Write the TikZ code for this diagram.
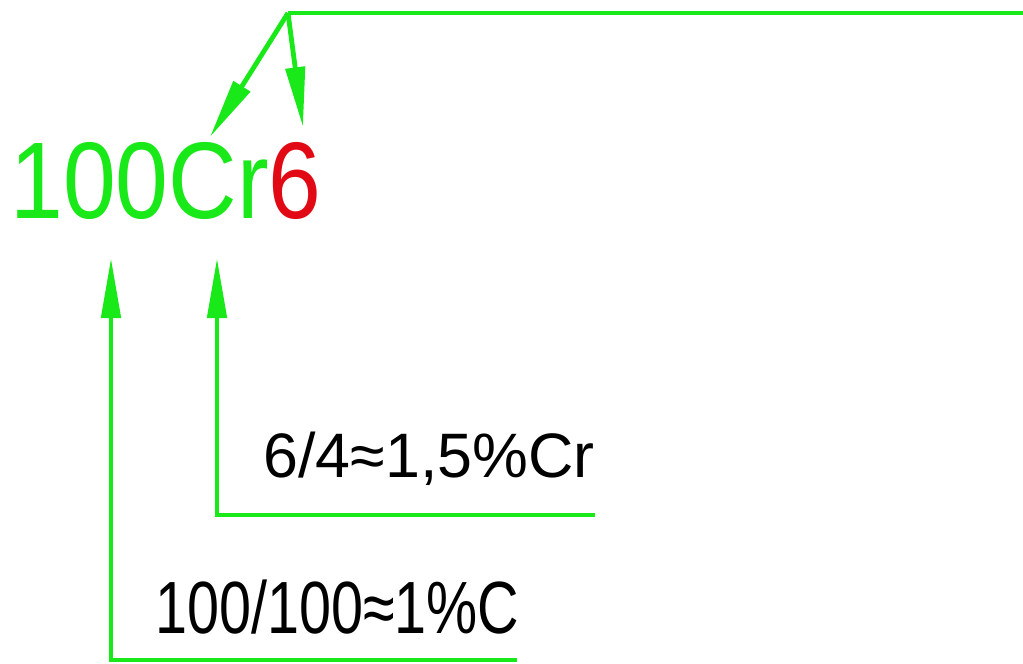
\documentclass[tikz,border=0pt]{standalone}
\usepackage{fontspec}
\usetikzlibrary{arrows.meta}
\setmainfont{Liberation Sans}
\newfontfamily\isofont{Liberation Sans}
\definecolor{grn}{RGB}{25,232,25}
\definecolor{rd}{RGB}{225,10,20}
\begin{document}
\begin{tikzpicture}[x=0.5pt,y=-0.5pt,
  lead/.style={draw=grn,line width=2.4pt},
  tipend/.style={-{Triangle[length=30pt,width=9.5pt]}},
  lbl/.style={inner sep=0pt,anchor=base west,text=black}]
\useasboundingbox (0,0) rectangle (1023,664);
\node[inner sep=0pt,anchor=base west] (grade) at (10,218)
  {\fontsize{54.5}{60}\selectfont\scalebox{0.871}[1]{\textcolor{grn}{100Cr}\textcolor{rd}{6}}};
\node[lbl] (lab1) at (263,477) {\isofont\fontsize{31.4}{36}\selectfont 6/4≈1,5\%Cr};
\node[lbl] (lab2) at (155,633) {\isofont\fontsize{37}{42}\selectfont\scalebox{0.777}[1]{100/100≈1\%C}};
\coordinate (j) at (288,13);
\coordinate (e) at (1023,13);
\coordinate (tC) at (210,137);
\coordinate (t6) at (303,127);
\coordinate (b1) at (111,258);
\coordinate (bC) at (217,258);
\coordinate (k1) at (111,660);
\coordinate (k2) at (217,515);
\coordinate (e1) at (517,660);
\coordinate (e2) at (595,515);
\draw[lead] (e) -- (j);
\draw[lead,tipend] (j) -- (tC);
\draw[lead,tipend] (j) -- (t6);
\draw[lead,tipend] (e1) -- (k1) -- (b1);
\draw[lead,tipend] (e2) -- (k2) -- (bC);
\end{tikzpicture}
\end{document}
